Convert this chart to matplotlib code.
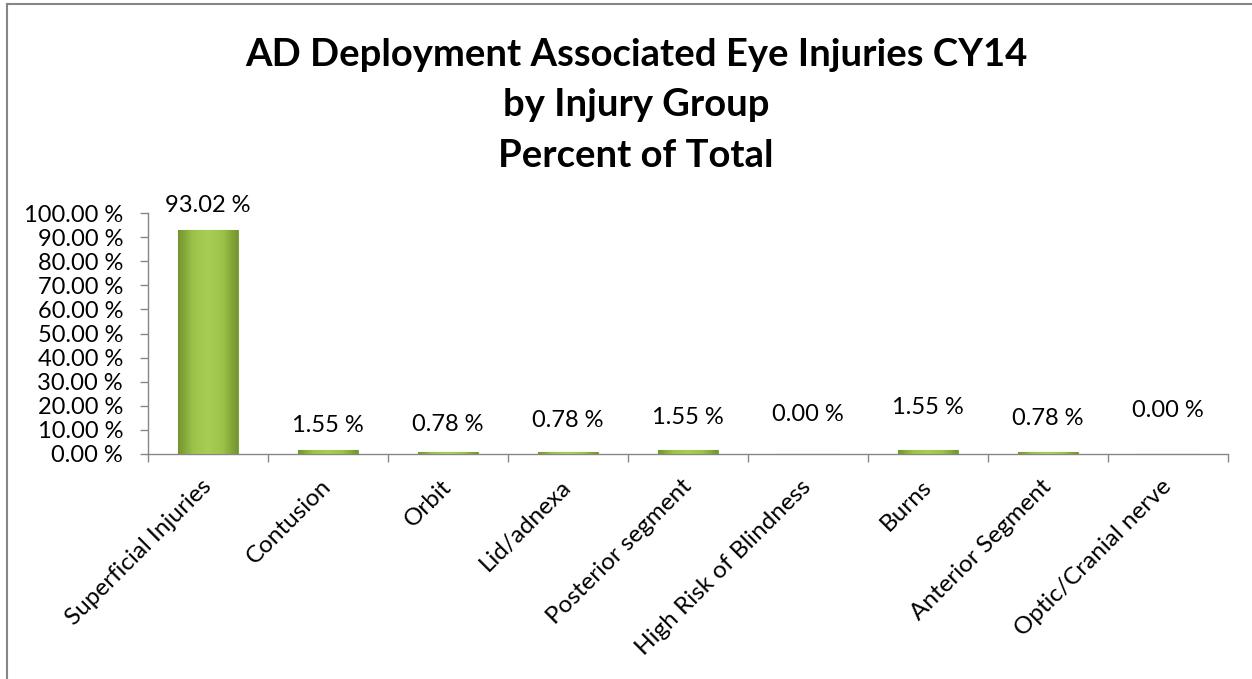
import matplotlib.pyplot as plt
import matplotlib as mpl
import numpy as np
from matplotlib.colors import LinearSegmentedColormap

# data
groups = ["Superficial Injuries", "Contusion", "Orbit", "Lid/adnexa",
          "Posterior segment", "High Risk of Blindness", "Burns",
          "Anterior Segment", "Optic/Cranial nerve"]
percent = [93.02, 1.55, 0.78, 0.78, 1.55, 0.00, 1.55, 0.78, 0.00]

# label offsets above the bar top (points), as placed in the original
label_pad = [10, 10, 12, 15, 16, 21, 23, 17, 24]

plt.rcParams["font.family"] = ["Lato", "DejaVu Sans"]

fig = plt.figure(figsize=(12.52, 6.79), dpi=100)
ax = fig.add_axes([148 / 1252, 225 / 679, 1080 / 1252, 241 / 679])

x = np.arange(len(groups))
bars = ax.bar(x, percent, width=0.5, color="#9bbb59", edgecolor="#86a445",
              linewidth=0.8, zorder=2)

# horizontal bevel-like gradient in each bar
cmap = LinearSegmentedColormap.from_list(
    "grn", ["#74932f", "#9cc24a", "#a8ce54", "#9cc24a", "#74932f"])
grad = np.linspace(0, 1, 256).reshape(1, -1)
for b in bars:
    if b.get_height() <= 0:
        continue
    x0, w, h = b.get_x(), b.get_width(), b.get_height()
    im = ax.imshow(grad, cmap=cmap, aspect="auto", zorder=3,
                   extent=[x0, x0 + w, 0, h], interpolation="bilinear")
    im.set_clip_path(b)

for xi, v, pad in zip(x, percent, label_pad):
    ax.annotate(f"{v:.2f} %", (xi, v), xytext=(0, pad), textcoords="offset points",
                ha="center", va="bottom", fontsize=17, color="#000000")

ax.set_xlim(-0.5, len(groups) - 0.5)
ax.set_ylim(0, 100)
ax.set_yticks(np.arange(0, 101, 10))
ax.set_yticklabels([f"{t:.2f} %" for t in np.arange(0, 101, 10)], fontsize=17)

ax.set_xticks(x)
ax.set_xticklabels(groups, rotation=45, ha="right", va="center",
                   rotation_mode="anchor", fontsize=17.5)
ax.set_xticks(np.arange(-0.5, len(groups), 1), minor=True)
ax.tick_params(axis="x", which="major", length=0, pad=21)
ax.tick_params(axis="x", which="minor", length=6, color="#868686", width=1)
ax.tick_params(axis="y", length=6, color="#868686", width=1, pad=12)

for s in ["top", "right"]:
    ax.spines[s].set_visible(False)
for s in ["left", "bottom"]:
    ax.spines[s].set_color("#868686")
    ax.spines[s].set_linewidth(1)

fig.text(0.508, 0.944, "AD Deployment Associated Eye Injuries CY14\nby Injury Group\nPercent of Total",
         ha="center", va="top", fontsize=27.5, fontweight="bold", linespacing=1.58)

# outer chart frame
fig.add_artist(plt.Line2D([7 / 1252, 7 / 1252], [0, 675 / 679], color="#868686", lw=1.5))
fig.add_artist(plt.Line2D([7 / 1252, 1], [675 / 679, 675 / 679], color="#868686", lw=1.5))

plt.savefig("out.png", dpi=100)
plt.close(fig)
